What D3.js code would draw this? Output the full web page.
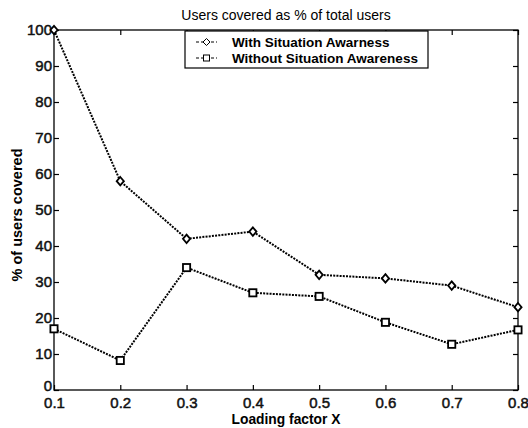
<!DOCTYPE html>
<html><head><meta charset="utf-8">
<script src="https://cdn.jsdelivr.net/npm/d3@7"></script>
<style>body{margin:0;background:#fff}svg{display:block}text{font-family:"Liberation Sans",Arial,Helvetica,sans-serif;fill:#000}</style>
</head><body><svg id="c" width="528" height="428"></svg>
<script>
const xValues = [0.1,0.2,0.3,0.4,0.5,0.6,0.7,0.8];
const withSA = [100,58,42,44,32,31,29,23];
const withoutSA = [17,8.2,34,27,26,18.8,12.7,16.7];
const xTicks = [0.1,0.2,0.3,0.4,0.5,0.6,0.7,0.8];
const yTicks = [0,10,20,30,40,50,60,70,80,90,100];
const seriesNames = ["With Situation Awarness","Without Situation Awareness"];
const title = "Users covered as % of total users";
const xLabel = "Loading factor X";
const yLabel = "% of users covered";

const svg = d3.select("#c");
const L=54,R=518,T=30,B=390;
const x = d3.scaleLinear().domain([0.1,0.8]).range([L,R]);
const y = d3.scaleLinear().domain([0,100]).range([B,T]);
const tl=5;
const g = svg.append("g");
g.append("rect").attr("x",L).attr("y",T).attr("width",R-L).attr("height",B-T).attr("fill","none").attr("stroke","#000").attr("stroke-width",1.3);
const ax = g.append("g").attr("transform",`translate(0,${B})`).call(d3.axisBottom(x).tickValues(xTicks).tickSizeInner(-tl).tickSizeOuter(0).tickPadding(8.5).tickFormat(d3.format(".1f")));
const axT = g.append("g").attr("transform",`translate(0,${T})`).call(d3.axisTop(x).tickValues(xTicks).tickSizeInner(-tl).tickSizeOuter(0).tickFormat(""));
const ay = g.append("g").attr("transform",`translate(${L},0)`).call(d3.axisLeft(y).tickValues(yTicks).tickSizeInner(-tl).tickSizeOuter(0).tickPadding(2));
const ayR = g.append("g").attr("transform",`translate(${R},0)`).call(d3.axisRight(y).tickValues(yTicks).tickSizeInner(-tl).tickSizeOuter(0).tickFormat(""));
[ax,axT,ay,ayR].forEach(a=>{a.select(".domain").remove();a.selectAll("line").attr("stroke","#000").attr("stroke-width",1.2);a.selectAll("text").attr("font-size",15).attr("font-weight","normal").style("fill","#111").style("stroke","#111").style("stroke-width",0.5);});
ax.selectAll("text").attr("dy","0.6em");
ay.selectAll(".tick").filter(d=>d===0).select("text").attr("dy","0em");

const line = d3.line().x((d,i)=>x(xValues[i])).y(d=>y(d));
function drawSeries(data,shape){
  g.append("path").datum(data).attr("d",line).attr("fill","none").attr("stroke","#000").attr("stroke-width",2).attr("stroke-dasharray","2,1.2");
  data.forEach((d,i)=>marker(g,x(xValues[i]),y(d),shape));
}
function marker(p,cx,cy,shape){
  if(shape==="d"){
    p.append("path").attr("d",`M${cx},${cy-4.2}L${cx+3.6},${cy}L${cx},${cy+4.2}L${cx-3.6},${cy}Z`).attr("fill","#fff").attr("stroke","#000").attr("stroke-width",1.8);
  } else {
    p.append("rect").attr("x",cx-3.6).attr("y",cy-3.6).attr("width",7.2).attr("height",7.2).attr("fill","#fff").attr("stroke","#000").attr("stroke-width",1.8);
  }
}
drawSeries(withSA,"d");
drawSeries(withoutSA,"s");

svg.append("text").attr("x",(L+R)/2).attr("y",20).attr("text-anchor","middle").attr("font-size",14).text(title);
svg.append("text").attr("x",(L+R)/2).attr("y",424).attr("text-anchor","middle").attr("font-size",13.8).attr("font-weight","bold").text(xLabel);
svg.append("text").attr("transform",`translate(22,215) rotate(-90)`).attr("text-anchor","middle").attr("font-size",14.5).attr("font-weight","bold").text(yLabel);

const lg = svg.append("g");
lg.append("rect").attr("x",185).attr("y",31).attr("width",243).attr("height",37).attr("fill","#fff").attr("stroke","#000").attr("stroke-width",1.2);
seriesNames.forEach((n,i)=>{
  const yy = 42+i*16;
  lg.append("line").attr("x1",196).attr("x2",217).attr("y1",yy).attr("y2",yy).attr("stroke","#000").attr("stroke-width",1).attr("stroke-dasharray","3,2");
  if(i===0){
    lg.append("path").attr("d",`M206.5,${yy-3.5}L210,${yy}L206.5,${yy+3.5}L203,${yy}Z`).attr("fill","#fff").attr("stroke","#000").attr("stroke-width",1);
  } else {
    lg.append("rect").attr("x",203.5).attr("y",yy-3).attr("width",6).attr("height",6).attr("fill","#fff").attr("stroke","#000").attr("stroke-width",1);
  }
  lg.append("text").attr("x",232).attr("y",yy+4.5).attr("font-size",13.5).attr("font-weight","bold").text(n);
});
</script></body></html>
